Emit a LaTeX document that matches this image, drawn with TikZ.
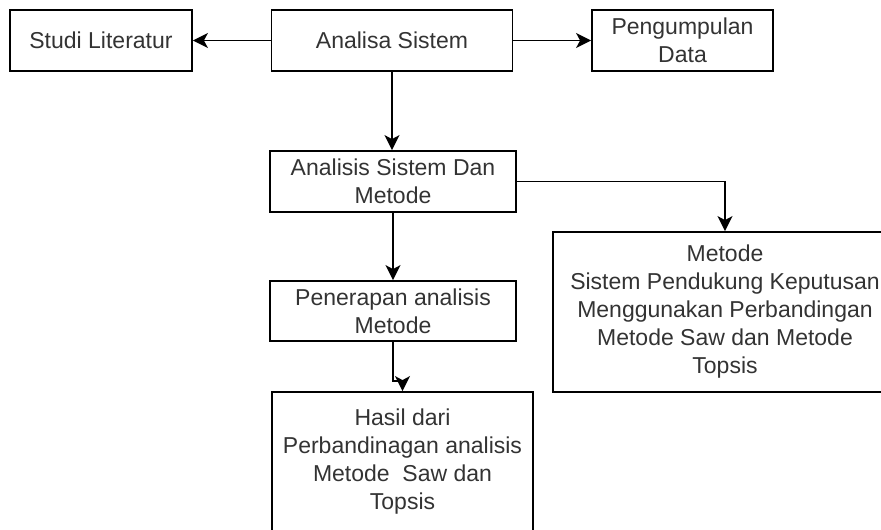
\documentclass[tikz,border=0pt]{standalone}
\usepackage{fontspec}
\setmainfont{Liberation Sans}
\usepackage{tikz}
\usetikzlibrary{arrows.meta}

\tikzset{
	box/.style = {draw, line width=1.8pt, align=center, text=black!80, inner sep=2pt,
		font=\fontsize{23}{28}\selectfont},
	arr/.style = {line width=1.8pt, -{Stealth[length=15pt, width=15pt, inset=4pt]}}
}

\begin{document}
\begin{tikzpicture}[x=1pt, y=-1pt]
	\useasboundingbox (0,0) rectangle (881,530);
	\clip (0,0) rectangle (881,530);
	\node[box, minimum width=182pt, minimum height=61pt] (lit) at (101,40.5) {Studi Literatur};
	\node[box, minimum width=241pt, minimum height=61pt] (sistem) at (392,40.5) {Analisa Sistem};
	\node[box, minimum width=181pt, minimum height=61pt] (data) at (682.5,40.5) {Pengumpulan\\Data};
	\node[box, minimum width=246pt, minimum height=61pt] (metode) at (393,181.5) {Analisis Sistem Dan\\Metode};
	\node[box, minimum width=246pt, minimum height=60pt] (terap) at (393,311) {Penerapan analisis\\Metode};
	\node[box, minimum width=344pt, minimum height=160pt] (spk) at (725,312)
		{Metode\\Sistem Pendukung Keputusan\\Menggunakan Perbandingan\\Metode Saw dan Metode\\Topsis};
	\node[box, minimum width=261pt, minimum height=140pt] (hasil) at (402.5,462)
		{Hasil dari\\Perbandinagan analisis\\Metode\ \ Saw dan\\Topsis};

	\draw[arr] (sistem) -- (lit);
	\draw[arr] (sistem) -- (data);
	\draw[arr] (sistem.south) -- (sistem.south |- metode.north);
	\draw[arr] (metode.east) -| (spk.north);
	\draw[arr] (metode.south) -- (terap.north);
	\draw[arr] (terap.south) |- ([yshift=10pt]hasil.north) -- (hasil.north);
\end{tikzpicture}
\end{document}
